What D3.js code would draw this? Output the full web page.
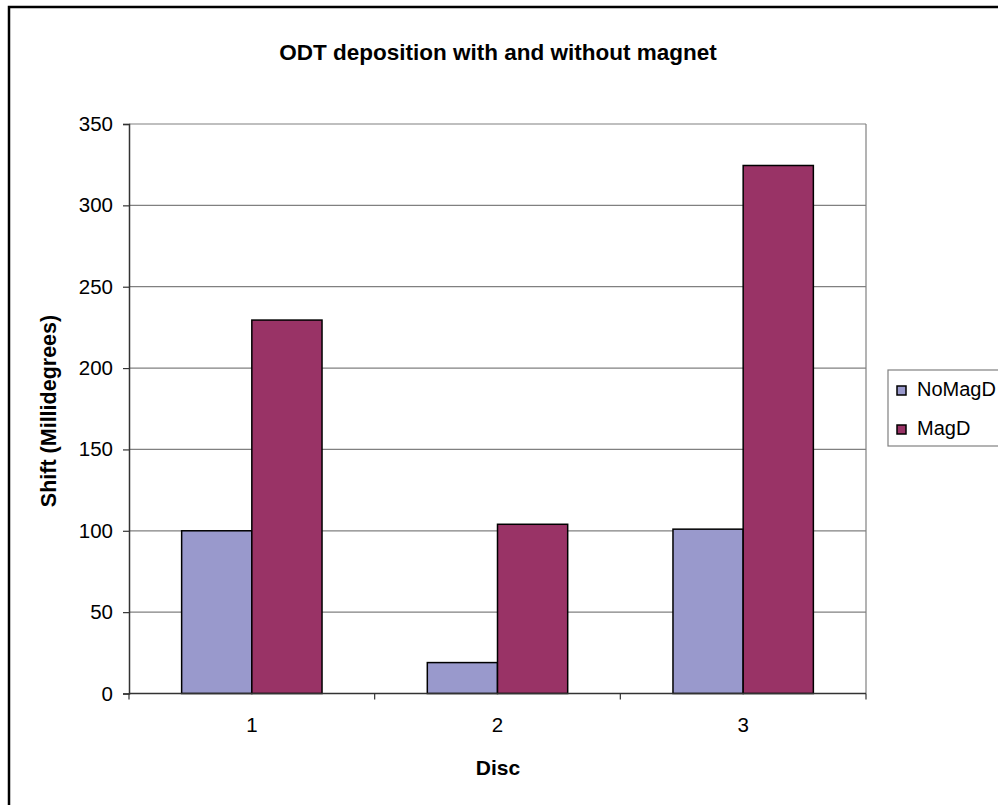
<!DOCTYPE html>
<html>
<head>
<meta charset="utf-8">
<script src="https://cdn.jsdelivr.net/npm/d3@7"></script>
<style>
  html, body { margin: 0; padding: 0; background: #fff; }
  svg { display: block; font-family: "Liberation Sans", Arial, sans-serif; }
</style>
</head>
<body>
<svg id="chart" width="998" height="805"></svg>
<script>
// Shift measured per disc, with and without the magnet
const discs = ["1", "2", "3"];
const seriesNames = ["NoMagD", "MagD"];
const noMagD = [100, 19, 101];
const magD = [229.5, 104, 324.5];
const seriesColors = ["#9999cc", "#993366"];
const yTicks = [0, 50, 100, 150, 200, 250, 300, 350];

const svg = d3.select("#chart");
const plot = { left: 129, top: 124, right: 866, bottom: 693.5 };

// outer chart frame
svg.append("rect")
  .attr("x", 9).attr("y", 7).attr("width", 1100).attr("height", 900)
  .attr("fill", "#fff").attr("stroke", "#000").attr("stroke-width", 2.5);

const x = d3.scaleBand().domain(discs).range([plot.left, plot.right]);
const xs = d3.scaleBand().domain(seriesNames)
  .range([0, x.bandwidth()]).paddingInner(0).paddingOuter(0.75);
const y = d3.scaleLinear().domain([0, 350]).range([plot.bottom, plot.top]);

// gridlines
svg.append("g")
  .selectAll("line").data(yTicks.filter(d => d > 0)).join("line")
  .attr("x1", plot.left).attr("x2", plot.right)
  .attr("y1", d => y(d)).attr("y2", d => y(d))
  .attr("stroke", "#808080").attr("stroke-width", 1.2);

// plot area right border
svg.append("line")
  .attr("x1", plot.right).attr("x2", plot.right)
  .attr("y1", plot.top).attr("y2", plot.bottom)
  .attr("stroke", "#808080").attr("stroke-width", 1.2);

// bars
const series = [noMagD, magD];
const bars = svg.append("g");
series.forEach((vals, si) => {
  bars.selectAll(null).data(vals).join("rect")
    .attr("x", (d, i) => x(discs[i]) + xs(seriesNames[si]))
    .attr("width", xs.bandwidth())
    .attr("y", d => y(d))
    .attr("height", d => y(0) - y(d))
    .attr("fill", seriesColors[si])
    .attr("stroke", "#000").attr("stroke-width", 1.5);
});

// y axis
const yAxis = svg.append("g")
  .attr("transform", `translate(${plot.left},0)`)
  .call(d3.axisLeft(y).tickValues(yTicks).tickSize(6).tickPadding(10));
yAxis.select(".domain").attr("stroke", "#333").attr("stroke-width", 1.5);
yAxis.selectAll(".tick line").attr("stroke", "#333").attr("stroke-width", 1.2);
yAxis.selectAll(".tick text").attr("font-size", 20.5).attr("fill", "#000")
  .attr("font-family", "Liberation Sans, Arial, sans-serif");

// x axis with ticks at category boundaries
const xAxisG = svg.append("g").attr("transform", `translate(0,${plot.bottom})`);
xAxisG.append("line")
  .attr("x1", plot.left).attr("x2", plot.right)
  .attr("stroke", "#333").attr("stroke-width", 1.5);
const bounds = discs.map(d => x(d)).concat([x(discs[discs.length - 1]) + x.bandwidth()]);
xAxisG.selectAll(".bt").data(bounds).join("line")
  .attr("x1", d => d).attr("x2", d => d).attr("y1", 0).attr("y2", 6)
  .attr("stroke", "#333").attr("stroke-width", 1.2);
xAxisG.selectAll(".lbl").data(discs).join("text")
  .attr("x", d => x(d) + x.bandwidth() / 2).attr("y", 38.5)
  .attr("text-anchor", "middle").attr("font-size", 20.5).text(d => d);

// titles
svg.append("text")
  .attr("x", 498).attr("y", 60).attr("text-anchor", "middle")
  .attr("font-size", 22.5).attr("font-weight", "bold")
  .text("ODT deposition with and without magnet");

svg.append("text")
  .attr("x", 498).attr("y", 775).attr("text-anchor", "middle")
  .attr("font-size", 21).attr("font-weight", "bold").text("Disc");

svg.append("text")
  .attr("transform", `translate(56,411) rotate(-90)`)
  .attr("text-anchor", "middle")
  .attr("font-size", 21.5).attr("font-weight", "bold").text("Shift (Millidegrees)");

// legend
const legend = svg.append("g");
legend.append("rect")
  .attr("x", 888).attr("y", 370).attr("width", 130).attr("height", 76)
  .attr("fill", "#fff").attr("stroke", "#808080").attr("stroke-width", 1.2);
const items = legend.selectAll(".item").data(seriesNames).join("g")
  .attr("transform", (d, i) => `translate(897,${386 + i * 39})`);
items.append("rect")
  .attr("width", 9).attr("height", 9)
  .attr("fill", (d, i) => seriesColors[i]).attr("stroke", "#000").attr("stroke-width", 1.5);
items.append("text")
  .attr("x", 20).attr("y", 9.5).attr("font-size", 20).text(d => d);
</script>
</body>
</html>
